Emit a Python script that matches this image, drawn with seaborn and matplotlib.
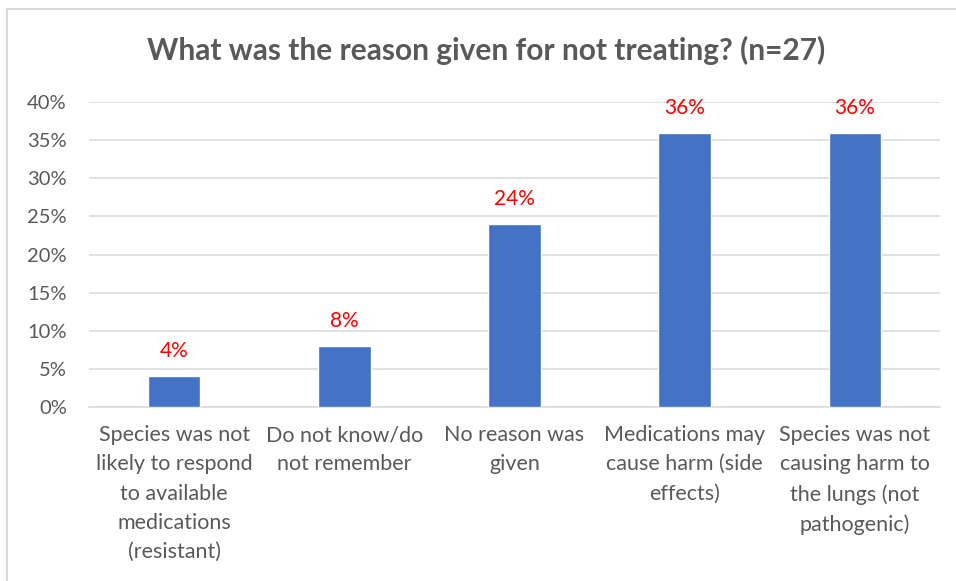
import matplotlib
matplotlib.use("Agg")
import matplotlib.pyplot as plt
import seaborn as sns
import pandas as pd
from matplotlib.patches import Rectangle
from matplotlib.ticker import PercentFormatter

reasons = [
    "Species was not\nlikely to respond\nto available\nmedications\n(resistant)",
    "Do not know/do\nnot remember",
    "No reason was\ngiven",
    "Medications may\ncause harm (side\neffects)",
    "Species was not\ncausing harm to\nthe lungs (not\npathogenic)",
]
shares = [0.04, 0.08, 0.24, 0.36, 0.36]
value_labels = ["4%", "8%", "24%", "36%", "36%"]
y_ticks = [0.0, 0.05, 0.10, 0.15, 0.20, 0.25, 0.30, 0.35, 0.40]

sns.set_theme(style="white")
plt.rcParams["font.family"] = ["Lato", "DejaVu Sans"]

text_gray = "#595959"
grid_gray = "#D9D9D9"
bar_blue = "#4472C4"

df = pd.DataFrame({"reason": reasons, "share": shares})

fig = plt.figure(figsize=(9.56, 5.81), dpi=100)
ax = fig.add_axes([0.0931, 0.2995, 0.8902, 0.5249])

sns.barplot(data=df, x="reason", y="share", color=bar_blue, width=0.31,
            saturation=1, ax=ax, zorder=3)

ax.set_ylim(0, 0.40)
ax.set_xlim(-0.5, len(reasons) - 0.5)
ax.set_yticks(y_ticks)
ax.yaxis.set_major_formatter(PercentFormatter(1.0, decimals=0))
ax.grid(axis="y", color=grid_gray, linewidth=1.1, zorder=0)
for side in ["top", "right", "left"]:
    ax.spines[side].set_visible(False)
ax.spines["bottom"].set_color(grid_gray)
ax.spines["bottom"].set_linewidth(1.1)

ax.set_xlabel("")
ax.set_ylabel("")
ax.tick_params(axis="y", length=0, pad=16, labelsize=14.5, labelcolor=text_gray)
ax.tick_params(axis="x", length=0, pad=13, labelsize=15.5, labelcolor=text_gray)
for lbl in ax.get_xticklabels():
    lbl.set_linespacing(1.58)

for i, (v, t) in enumerate(zip(shares, value_labels)):
    ax.annotate(t, (i, v), xytext=(0, 18), textcoords="offset points",
                ha="center", va="center", color="#FF0000", fontsize=15)

fig.text(0.509, 0.914, "What was the reason given for not treating? (n=27)",
         ha="center", va="center", fontsize=21.5, fontweight="bold", color=text_gray)

# chart frame
fig.patches.append(Rectangle((7 / 956, -0.1), 1.2, 1 - 9 / 581 + 0.1,
                             transform=fig.transFigure, fill=False,
                             edgecolor=grid_gray, linewidth=1.5))

fig.savefig("out.png", dpi=100, facecolor="white")
